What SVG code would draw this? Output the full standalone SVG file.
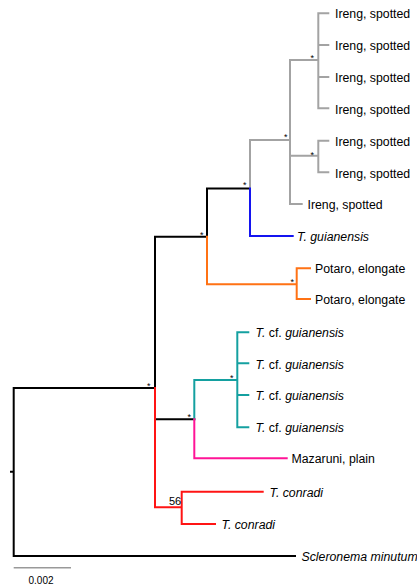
<svg xmlns="http://www.w3.org/2000/svg" width="417" height="586" viewBox="0 0 417 586">
<style>
.e{fill:none;stroke-width:2;stroke-linecap:square;stroke-linejoin:miter}
.k{stroke:#000}
.g{stroke:#a3a3a3}
.b{stroke:#1414f0}
.o{stroke:#ff7214}
.t{stroke:#14a0a0}
.p{stroke:#ff1496}
.r{stroke:#ff1414}
text{font-family:"Liberation Sans",Arial,sans-serif;font-size:12.3px;fill:#000}
.i{font-style:italic}
.s{font-size:9px}
</style>
<rect width="417" height="586" fill="#fff"/>
<g id="connectors">
<path class="e k" d="M11,471.7H13.7M13.7,388V556M13.7,388H155M13.7,556H295"/>
<path class="e k" d="M155,236.7V388M155,236.7H207M207,188.5V236.7M207,188.5H250M155,419.3H194.3"/>
<path class="e g" d="M250,140V188.5M250,140H290M290,60V204M290,60H318.3M318.3,13.3V108.3M318.3,13.3H328.3M318.3,45H328.3M318.3,77H328.3M318.3,108.3H328.3M290,155.7H318.3M318.3,140.7V172.3M318.3,140.7H328.3M318.3,172.3H328.3M290,204H301.7"/>
<path class="e b" d="M250,188.5V236M250,236H292.7"/>
<path class="e o" d="M207,236.7V284.3M207,284.3H296.7M296.7,268.3V299M296.7,268.3H310M296.7,299H310"/>
<path class="e t" d="M194.3,380V419.3M194.3,380H237.3M237.3,332.3V427.3M237.3,332.3H248.3M237.3,363.3H248.3M237.3,395H248.3M237.3,427.3H248.3"/>
<path class="e p" d="M194.3,419.3V458.3M194.3,458.3H286.7"/>
<path class="e r" d="M155,388V507.3M155,507.3H181.7M181.7,491.7V524M181.7,491.7H262.7M181.7,524H215"/>
<path fill="none" stroke="#999" stroke-width="1.5" d="M13.7,567.7H71"/>
</g>
<g id="support">
<text class="s" x="147" y="388.5">*</text>
<text class="s" x="200" y="237.5">*</text>
<text class="s" x="243" y="187.5">*</text>
<text class="s" x="284" y="139.5">*</text>
<text class="s" x="310.5" y="61">*</text>
<text class="s" x="310.5" y="157.5">*</text>
<text class="s" x="290.5" y="285">*</text>
<text class="s" x="230" y="381">*</text>
<text class="s" x="187.5" y="419.5">*</text>
<text x="169" y="504.5" style="font-size:11px">56</text>
</g>
<g id="node-ireng1"><text x="335" y="18">Ireng, spotted</text></g>
<g id="node-ireng2"><text x="335" y="50">Ireng, spotted</text></g>
<g id="node-ireng3"><text x="335" y="82">Ireng, spotted</text></g>
<g id="node-ireng4"><text x="335" y="113.5">Ireng, spotted</text></g>
<g id="node-ireng5"><text x="335" y="146">Ireng, spotted</text></g>
<g id="node-ireng6"><text x="335" y="177.5">Ireng, spotted</text></g>
<g id="node-ireng7"><text x="307.5" y="209">Ireng, spotted</text></g>
<g id="node-tguianensis"><text class="i" x="297" y="241">T. guianensis</text></g>
<g id="node-potaro1"><text x="315" y="273">Potaro, elongate</text></g>
<g id="node-potaro2"><text x="315" y="304">Potaro, elongate</text></g>
<g id="node-tcf1"><text x="255.5" y="337"><tspan class="i">T.</tspan> cf. <tspan class="i">guianensis</tspan></text></g>
<g id="node-tcf2"><text x="255.5" y="368.5"><tspan class="i">T.</tspan> cf. <tspan class="i">guianensis</tspan></text></g>
<g id="node-tcf3"><text x="255.5" y="400"><tspan class="i">T.</tspan> cf. <tspan class="i">guianensis</tspan></text></g>
<g id="node-tcf4"><text x="255.5" y="432"><tspan class="i">T.</tspan> cf. <tspan class="i">guianensis</tspan></text></g>
<g id="node-mazaruni"><text x="291.5" y="463">Mazaruni, plain</text></g>
<g id="node-tconradi1"><text class="i" x="269.5" y="496.5">T. conradi</text></g>
<g id="node-tconradi2"><text class="i" x="221.5" y="529">T. conradi</text></g>
<g id="node-scleronema"><text class="i" x="301.5" y="561">Scleronema minutum</text></g>
<g id="scale"><text x="28.5" y="584" style="font-size:10px">0.002</text></g>
</svg>
